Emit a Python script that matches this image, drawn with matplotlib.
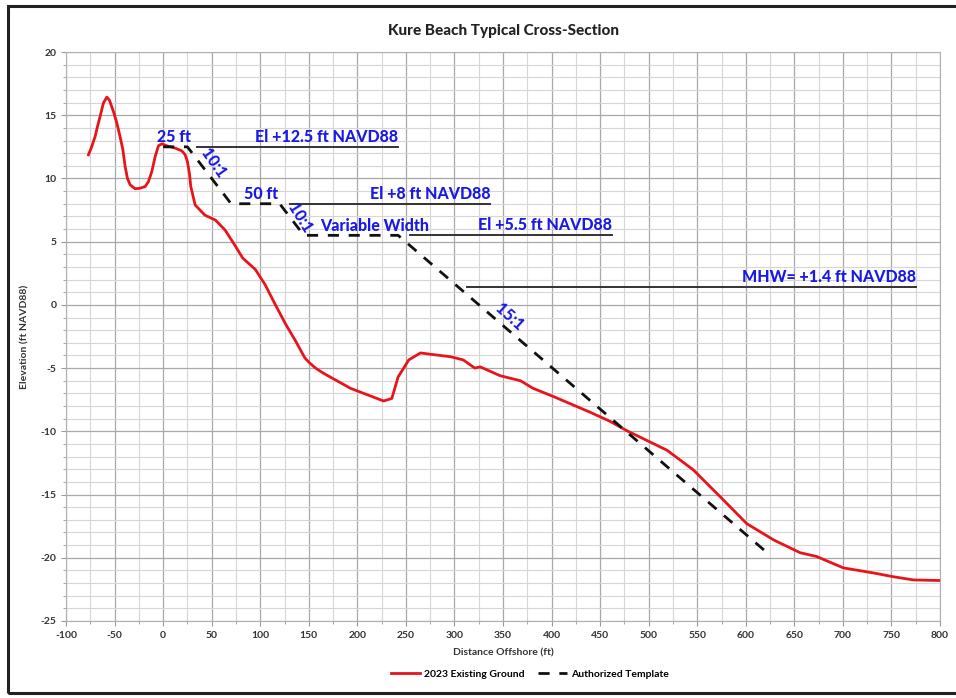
import matplotlib
matplotlib.use("Agg")
import matplotlib.pyplot as plt
from matplotlib.ticker import MultipleLocator
from matplotlib.patches import Rectangle

plt.rcParams['font.family'] = ['Lato', 'DejaVu Sans']
plt.rcParams['axes.unicode_minus'] = False

# 2023 existing ground profile
ground_x = [-76.9, -73.5, -70.0, -67.6, -64.9, -61.5, -58.0, -55.3, -51.2, -47.7, -44.3, -41.5,
            -39.1, -36.7, -34.0, -28.8, -23.7, -18.5, -15.1, -11.6, -8.2, -4.8, -1.3, 3.8, 12.4,
            19.3, 22.7, 25.0, 27.1, 28.5, 33, 43, 54, 64, 74, 82, 95, 105, 115, 126, 136, 146,
            151, 157, 165, 193, 210, 227, 235.5, 242, 253, 265, 275, 296, 309, 321, 326.5, 347,
            368, 381, 402, 440, 460, 477.5, 519, 546, 574, 601, 629, 656, 673, 700.5, 731.5, 752,
            772.5, 800]
ground_y = [11.87, 12.52, 13.32, 14.1, 14.9, 15.96, 16.43, 16.2, 15.3, 14.4, 13.3, 12.3,
            10.94, 10.0, 9.5, 9.18, 9.23, 9.36, 9.75, 10.55, 11.73, 12.58, 12.74, 12.58, 12.4,
            12.18, 11.87, 11.34, 10.4, 9.36, 7.9, 7.1, 6.7, 5.9, 4.7, 3.7, 2.8, 1.6, 0.1, -1.5,
            -2.8, -4.2, -4.6, -5.0, -5.4, -6.6, -7.1, -7.6, -7.4, -5.7, -4.35, -3.8, -3.9, -4.1,
            -4.35, -5.0, -4.9, -5.6, -6.0, -6.6, -7.25, -8.5, -9.2, -9.95, -11.5, -13.05, -15.2,
            -17.3, -18.6, -19.6, -19.9, -20.8, -21.2, -21.5, -21.75, -21.8]

# authorized beach fill template
template_x = [0, 25, 70, 120, 145, 242, 622]
template_y = [12.5, 12.5, 8, 8, 5.5, 5.5, -19.6]

# elevation reference lines and their labels
ref_y = [12.5, 8, 5.5, 1.4]
ref_x0 = [35, 131, 254, 313]
ref_x1 = [242, 337, 462, 775]
ref_labels = ['El +12.5 ft NAVD88', 'El +8 ft NAVD88', 'El +5.5 ft NAVD88', 'MHW= +1.4 ft NAVD88']

fig = plt.figure(figsize=(9.56, 6.98), dpi=100)
ax = fig.add_axes([66/956, 1-621/698, (940-66)/956, (621-52)/698])

# outer chart frame
fig.patches.append(Rectangle((8/956, 1-693/698), 0.995, (693-6)/698, transform=fig.transFigure,
                             fill=False, edgecolor='#222222', linewidth=2.2))

ax.set_xlim(-100, 800)
ax.set_ylim(-25, 20)
ax.xaxis.set_major_locator(MultipleLocator(50))
ax.xaxis.set_minor_locator(MultipleLocator(25))
ax.yaxis.set_major_locator(MultipleLocator(5))
ax.yaxis.set_minor_locator(MultipleLocator(1))
ax.grid(which='major', color='#a8a8a8', linewidth=0.9)
ax.grid(which='minor', color='#d6d6d6', linewidth=0.8)
ax.set_axisbelow(True)
for s in ax.spines.values():
    s.set_color('#b0b0b0')
ax.tick_params(which='both', colors='#999999', labelcolor='#333333', labelsize=7.5)
ax.tick_params(which='minor', length=2)
for lab in ax.get_xticklabels() + ax.get_yticklabels():
    lab.set_fontweight('bold')

ax.plot(ground_x, ground_y, color='#e8141c', linewidth=2, label='2023 Existing Ground', zorder=4)
ax.plot(template_x, template_y, color='#111111', linewidth=2, linestyle=(0, (4, 3.5)),
        label='Authorized Template', zorder=5)

blue = '#1a1ae6'
tkw = dict(color=blue, fontsize=11.5, fontweight='black', zorder=6)
for y, a, b, t in zip(ref_y, ref_x0, ref_x1, ref_labels):
    ax.plot([a, b], [y, y], color='#333333', linewidth=1.4, zorder=3)
    ax.text(b, y + 0.15, t, ha='right', va='bottom', **tkw)

ax.text(11, 12.65, '25 ft', ha='center', va='bottom', **tkw)
ax.text(101, 8.1, '50 ft', ha='center', va='bottom', **tkw)
ax.text(218, 5.6, 'Variable Width', ha='center', va='bottom', **tkw)
ax.text(51.5, 11.2, '10:1', ha='center', va='center', rotation=-55, **tkw)
ax.text(141, 6.9, '10:1', ha='center', va='center', rotation=-58, **tkw)
ax.text(357, -1.0, '15:1', ha='center', va='center', rotation=-42, **tkw)

ax.set_title('Kure Beach Typical Cross-Section', fontsize=11, fontweight='black', color='#222222', pad=12)
ax.set_xlabel('Distance Offshore (ft)', fontsize=7.5, fontweight='bold', color='#333333', labelpad=6)
ax.set_ylabel('Elevation (ft NAVD88)', fontsize=7.5, fontweight='bold', color='#333333', labelpad=8)

fig.legend(loc='center', bbox_to_anchor=(530/956, 1-674/698), ncol=2, frameon=False,
           handlelength=2.8, handletextpad=0.4, columnspacing=1.2,
           prop={'weight': 'bold', 'size': 7.5})

fig.savefig('out.png', dpi=100)
